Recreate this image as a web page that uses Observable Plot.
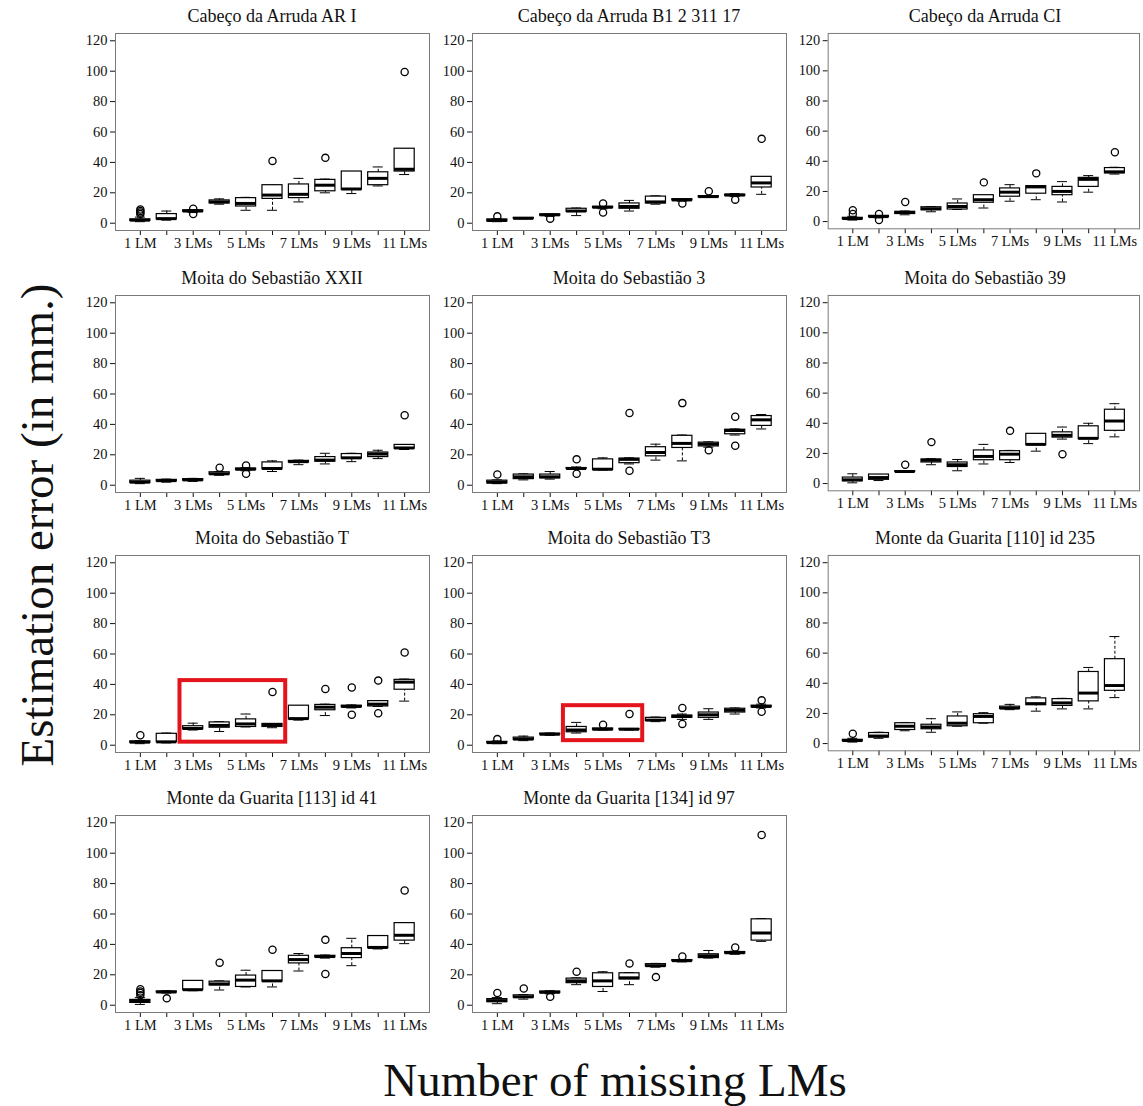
<!DOCTYPE html>
<html><head><meta charset="utf-8">
<script src="https://cdn.jsdelivr.net/npm/d3@7"></script>
<script src="https://cdn.jsdelivr.net/npm/@observablehq/plot@0.6"></script>
<style>
body{margin:0;background:#fff;}
#root{position:relative;width:1143px;height:1106px;overflow:hidden;font-family:"Liberation Serif","Times New Roman",serif;color:#111;}
.ttl{position:absolute;text-align:center;font-size:18px;line-height:22px;white-space:nowrap;}
.panel{position:absolute;}
.big{position:absolute;text-align:center;white-space:nowrap;font-size:47px;line-height:56px;}
</style></head><body><div id="root"></div>
<script>
const categories = ["1 LM","2 LMs","3 LMs","4 LMs","5 LMs","6 LMs","7 LMs","8 LMs","9 LMs","10 LMs","11 LMs"];
const yTicks = [0,20,40,60,80,100,120];
const titles = ["Cabeço da Arruda AR I","Cabeço da Arruda B1 2 311 17","Cabeço da Arruda CI",
  "Moita do Sebastião XXII","Moita do Sebastião 3","Moita do Sebastião 39",
  "Moita do Sebastião T","Moita do Sebastião T3","Monte da Guarita [110] id 235",
  "Monte da Guarita [113] id 41","Monte da Guarita [134] id 97"];

// box stats per category: [lower whisker, Q1, median, Q3, upper whisker]
const arI = [[1,1.5,2,2.5,4],[2,2.5,3,6,8],[7,7.5,8,8.5,9],[12.5,13,14,15,16],[8.5,11,13,16.5,17],[8.5,16,18.5,25,25],[14,16.5,19,25.5,29.5],[20,21,25,28.5,29],[19.5,22,22.5,34,34],[24.5,25,29.5,33.5,37],[32,34,35.5,49,49]];
const arIOut = [[6,7,8,9],[],[9.5,6],[],[],[41],[],[43],[],[],[99.5]];
const b1 = [[1,1.2,1.8,2.5,3],[3,3,3.2,3.5,3.7],[4.5,5,5.5,5.8,6],[5,7.5,8,9.5,10],[9.5,10,10.5,10.8,11],[8,9.5,11,13,15],[12.5,13,14,17.5,18],[14.5,15,15.3,15.8,16],[17,17,17.5,17.8,18],[17.5,18,18.5,18.8,19.5],[19,23.5,26.5,30.5,30.5]];
const b1Out = [[4.5],[],[3],[],[13,7],[],[],[13],[21],[15.5],[55.5]];
const ci = [[1,1.5,2,2.5,3.5],[2.5,3,3.3,3.8,4],[4.5,5,6,6.5,7],[6.5,7.5,8.5,9.5,10],[8,8,10,12,15],[9,12.5,14.5,17.5,17.5],[13.5,16.5,19.5,22,24.5],[14.5,18.5,23,23.5,23.5],[13,17.5,20,23,26.5],[19.5,23,28,29,30.5],[31.5,32,33,35.5,36]];
const ciOut = [[5,7.5],[5,1],[13],[],[],[26],[],[32],[],[],[46]];
const msXXII = [[1,1.5,2,3,4.5],[2,2.5,3,3.5,4],[2.5,3,3.5,4,4.5],[6.5,7,7.5,8.5,9],[9.5,10,10.5,11,11.5],[9,10.5,11,15,16],[13.5,15,15.5,16,16.5],[14,15.5,16.5,18.5,21],[15.5,17.5,18,20.5,21],[17.5,18.5,20.5,21.5,23],[23.5,24,24.5,26.5,26.5]];
const msXXIIOut = [[],[],[],[11.5],[13,7.5],[],[],[],[],[],[46]];
const ms3 = [[1,1.2,2,3,3.5],[3.5,4,5.5,7,7.5],[4,4.5,5.5,7,9],[10.5,10.8,11,11.3,12],[10,10,10.5,17,18],[14,14.5,17,17.5,18],[16.5,19,21.5,25,27],[16,24.5,27.5,32.5,33],[25,25.5,27,28,28.5],[33,33.5,36,36.5,37],[37,39,43,45.5,46.5]];
const ms3Out = [[7],[],[],[17,7.5],[],[47.5,9.5],[],[54],[23],[45,26],[]];
const ms39 = [[0.5,1.5,2.5,4,6.5],[2,2.5,4,6,6],[7.5,7.8,8,8.2,8.5],[12.5,14,15.5,16,16.5],[8.5,11,12.5,14,16],[13,15.5,18,22,26],[14,15.5,19.5,21.5,22],[21.5,25.5,26,33,33],[29.5,30.5,32,34,37.5],[26.5,29.5,30,38,40],[31,35,41.5,49,53]];
const ms39Out = [[],[],[12.5],[27.5],[],[],[35],[],[19.5],[],[]];
const msT = [[1,1.5,2,2.5,3],[1.5,2,2.2,7.5,8],[10,10.5,11,12.5,14.5],[9,11.5,13,15,15.5],[12,12,14,17,20.5],[11.5,12,13,14,14],[16.5,17,17.5,26,26],[19.5,23,25,26.5,27],[24.5,25,25.5,26,26.5],[25.5,25.5,27,29,29],[29,36.5,41.5,43,43.5]];
const msTOut = [[6.5],[],[],[],[],[35],[],[37],[38,20],[42.5,21],[61]];
const msT3 = [[1,1.3,1.7,2.2,2.8],[3,3.5,4,5,6],[6.5,7,7.2,7.6,8],[8,8.5,10,12,15],[10,10,10.5,11,11],[10,10.2,10.5,10.7,11],[15.5,16,16.5,18,18.5],[17,18,19,19.5,20.5],[17,18,20,21.5,24],[20.5,21.5,23,24,24.5],[24.5,25,25.5,26,27]];
const msT3Out = [[4],[],[],[],[13.5],[20.5],[],[24.5,14],[],[],[29.5,22]];
const mg110 = [[1,1.5,2,2.5,3.5],[3.5,4,5,7,7.5],[8.5,9,11.5,13.5,14],[7.5,9.5,11,12.5,16.5],[11.5,11.5,13.5,18,21],[13.5,13.5,18,19.5,20.5],[22.5,23,23.5,24.5,26],[21.5,25.5,26.5,30,31],[23,25,27,29.5,30],[23,28,33.5,47.5,50.5],[30.5,35,38.5,56,71]];
const mg110Out = [[6.5],[],[],[],[],[],[],[],[],[],[]];
const mg113 = [[0.5,1.5,2.5,3.5,5],[8,8.3,8.7,9,9.5],[9.5,10,10.2,16,16],[10,13,14,15.5,16],[12,12,16.5,19.5,23],[12,15.5,16,22.5,22.5],[22.5,27.5,30,32.5,34],[31,31.5,32,32.5,33],[26,31,34,37.5,44],[37,37.5,38,45.5,45.5],[40.5,42.5,46,54,54]];
const mg113Out = [[6.5,8,9,10.5],[4.5],[],[28],[],[36.5],[],[43,20.5],[],[],[75.5]];
const mg134 = [[1,2,3,4,5],[4,5,5.5,6.5,7],[7.5,8,8.5,9,9.5],[13.5,14.5,16,17.5,18],[9,12,16,21,22],[13.5,17,18,21,21.5],[25,25.5,26,27,27.5],[28.5,29,29.3,29.7,30],[31,31,32.5,33.5,36],[33.5,34,34.5,35,35.5],[42,42.5,47.5,56.5,57]];
const mg134Out = [[8],[11],[5.5],[22],[],[27.5],[18.5],[32],[],[38],[112]];

const stats = [arI,b1,ci,msXXII,ms3,ms39,msT,msT3,mg110,mg113,mg134];
const outliers = [arIOut,b1Out,ciOut,msXXIIOut,ms3Out,ms39Out,msTOut,msT3Out,mg110Out,mg113Out,mg134Out];
// highlighted groups (red boxes): panel index, first and last category number, y range
const highlights = [{panel:6, from:3, to:6, y1:2, y2:42.5},{panel:7, from:4, to:6, y1:3, y2:26}];

// layout
const frameLefts = [115, 472, 828];
const frameTops = [33, 295, 555, 815];
const FW = 314, FH = 197, ML = 40, MR = 4, MT = 4, MB = 26;

const root = document.getElementById("root");

function makePanel(st, outs, hls) {
  const rows = st.map((s, i) => ({i: i + 1, lo: s[0], q1: s[1], med: s[2], q3: s[3], hi: s[4]}));
  const pts = outs.flatMap((o, i) => o.map(v => ({i: i + 1, v})));
  const W = 0.38, S = 0.19;
  return Plot.plot({
    width: ML + FW + MR, height: MT + FH + MB,
    marginLeft: ML, marginRight: MR, marginTop: MT, marginBottom: MB,
    style: {fontFamily: "'Liberation Serif', 'Times New Roman', serif", fontSize: "14.5px", color: "#111", background: "transparent", overflow: "visible"},
    x: {domain: [0.06, 11.94], ticks: d3.range(1, 12), tickFormat: d => (d % 2 ? categories[d - 1] : ""), tickSize: 5, tickPadding: 2, label: null},
    y: {domain: [-4.8, 124.8], ticks: yTicks, tickSize: 5, tickPadding: 3, label: null},
    marks: [
      Plot.ruleX(rows, {x: "i", y1: "lo", y2: "q1", stroke: "black", strokeDasharray: "3,2"}),
      Plot.ruleX(rows, {x: "i", y1: "q3", y2: "hi", stroke: "black", strokeDasharray: "3,2"}),
      Plot.ruleY(rows, {y: "lo", x1: d => d.i - S, x2: d => d.i + S, stroke: "black"}),
      Plot.ruleY(rows, {y: "hi", x1: d => d.i - S, x2: d => d.i + S, stroke: "black"}),
      Plot.rect(rows, {x1: d => d.i - W, x2: d => d.i + W, y1: "q1", y2: "q3", fill: "white", stroke: "black", strokeWidth: 1.2}),
      Plot.ruleY(rows, {y: "med", x1: d => d.i - W, x2: d => d.i + W, stroke: "black", strokeWidth: 3}),
      Plot.dot(pts, {x: "i", y: "v", r: 3.6, stroke: "black", strokeWidth: 1.3, fill: "none"}),
      Plot.rect(hls, {x1: d => d.from - 0.5, x2: d => d.to + 0.5, y1: "y1", y2: "y2", fill: "none", stroke: "#e3141b", strokeWidth: 4}),
      Plot.frame({stroke: "#7a7a7a"})
    ]
  });
}

stats.forEach((st, k) => {
  const col = k % 3, row = Math.floor(k / 3);
  const fl = frameLefts[col], ft = frameTops[row];
  const t = document.createElement("div");
  t.className = "ttl";
  t.textContent = titles[k];
  t.style.left = (fl - 60) + "px";
  t.style.width = (FW + 120) + "px";
  t.style.top = (ft - 28) + "px";
  root.appendChild(t);
  const wrap = document.createElement("div");
  wrap.className = "panel";
  wrap.style.left = (fl - ML) + "px";
  wrap.style.top = (ft - MT) + "px";
  wrap.appendChild(makePanel(st, outliers[k], highlights.filter(h => h.panel === k)));
  root.appendChild(wrap);
});

const yl = document.createElement("div");
yl.className = "big";
yl.textContent = "Estimation error (in mm.)";
yl.style.width = "600px";
yl.style.left = (37 - 300) + "px";
yl.style.top = (525 - 28) + "px";
yl.style.transform = "rotate(-90deg)";
root.appendChild(yl);

const xl = document.createElement("div");
xl.className = "big";
xl.textContent = "Number of missing LMs";
xl.style.width = "800px";
xl.style.left = (615 - 400) + "px";
xl.style.top = (1080 - 28) + "px";
root.appendChild(xl);
</script>
</body></html>
